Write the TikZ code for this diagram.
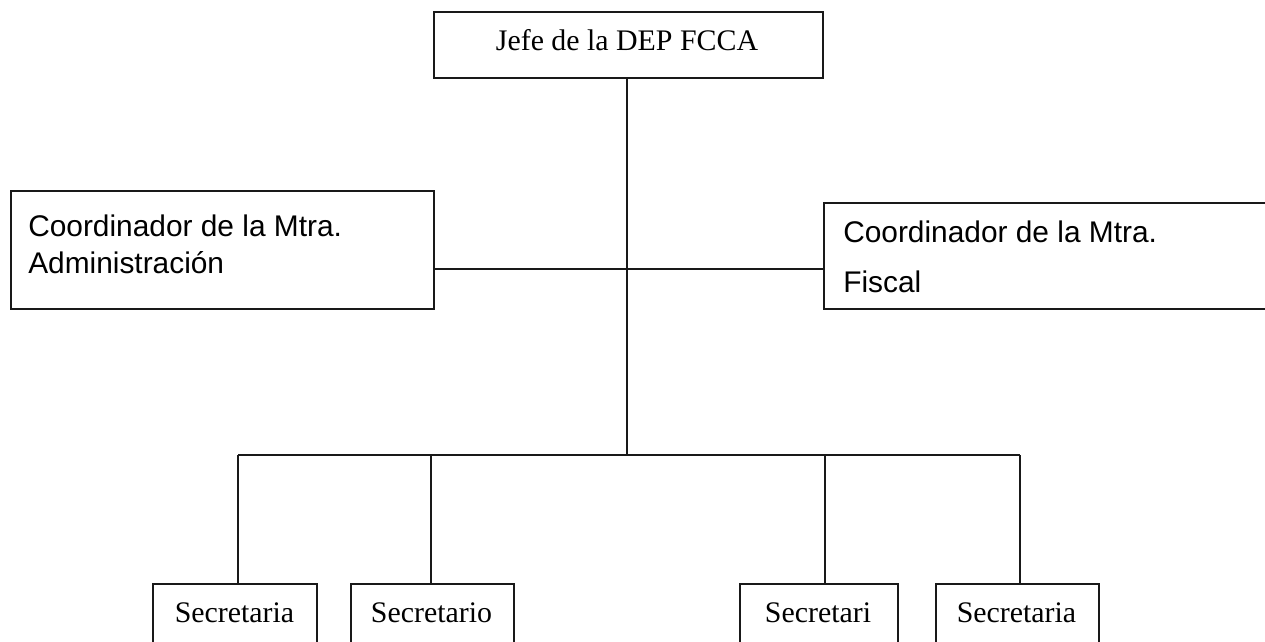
\documentclass[tikz,border=0pt]{standalone}
\usepackage{fontspec}
\setmainfont{Liberation Serif}
\newfontfamily\arialfont{Liberation Sans}
\begin{document}
\begin{tikzpicture}[x=0.75pt,y=-0.75pt,
  boxline/.style={draw=black!90,line width=1.5pt},
  conn/.style={draw=black!90,line width=1.5pt},
  orgbox/.style={boxline,inner sep=0pt,anchor=north west},
  serif/.style={font=\fontsize{22.4}{26}\selectfont,inner sep=0pt},
  sans/.style={font=\arialfont\fontsize{22.4}{26}\selectfont,inner sep=0pt}]
\useasboundingbox (0,0) rectangle (1265,642);
\clip (0,0) rectangle (1265,642);
\fill[white] (0,0) rectangle (1265,642);
% boxes
\node[orgbox,minimum width=291.75pt,minimum height=49.5pt] (top) at (433,11) {};
\node[orgbox,minimum width=317.25pt,minimum height=88.5pt] (left) at (10,190) {};
\node[orgbox,minimum width=357.75pt,minimum height=79.5pt] (right) at (823,202) {};
\node[orgbox,minimum width=123pt,minimum height=67.5pt] (b1) at (152,583) {};
\node[orgbox,minimum width=122.25pt,minimum height=67.5pt] (b2) at (350,583) {};
\node[orgbox,minimum width=118.5pt,minimum height=67.5pt] (b3) at (739,583) {};
\node[orgbox,minimum width=122.25pt,minimum height=67.5pt] (b4) at (935,583) {};
% texts
\node[serif,anchor=base] (ttop) at (627,51) {Jefe de la DEP FCCA};
\node[sans,anchor=base west] (tl1) at (28,236) {Coordinador de la Mtra.};
\node[sans,anchor=base west] (tl2) at (28,273) {Administración};
\node[sans,anchor=base west] (tr1) at (843,242) {Coordinador de la Mtra.};
\node[sans,anchor=base west] (tr2) at (843,292) {Fiscal};
\node[serif,anchor=base] (t1) at (234.5,622) {Secretaria};
\node[serif,anchor=base] (t2) at (431.5,622) {Secretario};
\node[serif,anchor=base] (t3) at (818,622) {Secretari};
\node[serif,anchor=base] (t4) at (1016.5,622) {Secretaria};
% connectors
\coordinate (j1) at (627,269);
\coordinate (j2) at (627,455);
\coordinate (d1) at (238,455);
\coordinate (d2) at (431,455);
\coordinate (d3) at (825,455);
\coordinate (d4) at (1020,455);
\draw[conn] (top.south -| j1) -- (j2);
\draw[conn] (left.east |- j1) -- (right.west |- j1);
\draw[conn] (d1) -- (d4);
\draw[conn] (d1) -- (d1 |- b1.north);
\draw[conn] (d2) -- (d2 |- b2.north);
\draw[conn] (d3) -- (d3 |- b3.north);
\draw[conn] (d4) -- (d4 |- b4.north);
\end{tikzpicture}
\end{document}
